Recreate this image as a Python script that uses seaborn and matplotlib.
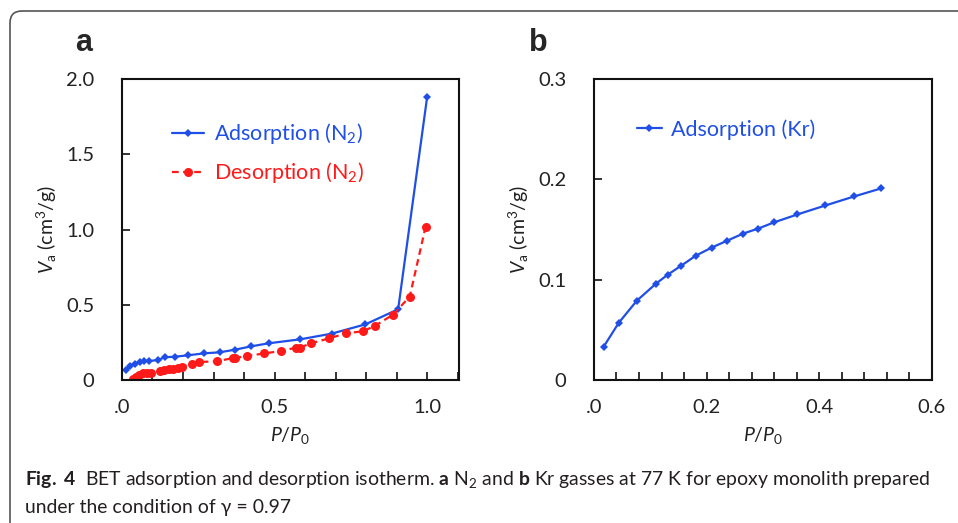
import matplotlib
matplotlib.use("Agg")
import matplotlib.pyplot as plt
from matplotlib.patches import FancyBboxPatch
from matplotlib.ticker import MultipleLocator, FixedLocator, FixedFormatter
from matplotlib.transforms import IdentityTransform
import seaborn as sns
import pandas as pd

# ---- data ----
ads_n2_p = [0.013, 0.026, 0.043, 0.059, 0.073, 0.090, 0.117, 0.141, 0.174, 0.216,
            0.268, 0.320, 0.372, 0.424, 0.481, 0.583, 0.687, 0.798, 0.905, 1.0]
ads_n2_v = [0.066, 0.093, 0.106, 0.120, 0.128, 0.126, 0.133, 0.151, 0.155, 0.164,
            0.177, 0.184, 0.202, 0.224, 0.244, 0.270, 0.308, 0.370, 0.470, 1.88]

des_n2_p = [0.995, 0.943, 0.888, 0.830, 0.790, 0.734, 0.679, 0.620, 0.582, 0.570,
            0.522, 0.467, 0.409, 0.371, 0.363, 0.311, 0.254, 0.229, 0.196, 0.185,
            0.168, 0.155, 0.138, 0.125, 0.094, 0.081, 0.070, 0.057, 0.046, 0.035]
des_n2_v = [1.019, 0.554, 0.434, 0.361, 0.324, 0.310, 0.277, 0.244, 0.215, 0.215,
            0.193, 0.177, 0.159, 0.146, 0.146, 0.124, 0.120, 0.106, 0.089, 0.082,
            0.075, 0.071, 0.066, 0.062, 0.049, 0.049, 0.044, 0.031, 0.018, 0.005]

ads_kr_p = [0.017, 0.044, 0.076, 0.110, 0.131, 0.155, 0.181, 0.209, 0.237, 0.265,
            0.292, 0.319, 0.361, 0.411, 0.462, 0.510]
ads_kr_v = [0.033, 0.057, 0.079, 0.096, 0.105, 0.114, 0.124, 0.132, 0.139, 0.146,
            0.151, 0.157, 0.165, 0.174, 0.183, 0.191]

BLUE = "#1f4fe6"
RED = "#ff1a1a"

sns.set_style("ticks")
plt.rcParams["font.family"] = ["Lato", "DejaVu Sans"]
plt.rcParams["mathtext.fontset"] = "custom"
plt.rcParams["mathtext.rm"] = "Lato"
plt.rcParams["mathtext.it"] = "Lato:italic"
plt.rcParams["mathtext.bf"] = "Lato:bold"

fig = plt.figure(figsize=(9.58, 5.23), dpi=100)

# outer rounded frame of the figure panel
frame = FancyBboxPatch((10, -40), 1000, 523 - 11 + 40,
                       boxstyle="round,pad=0,rounding_size=12",
                       transform=IdentityTransform(), fill=False,
                       edgecolor="#555555", linewidth=1.2)
fig.patches.append(frame)

ax1 = fig.add_axes([0.1273, 0.2734, 0.352, 0.5755])
ax2 = fig.add_axes([0.620, 0.2734, 0.3528, 0.5755])

df_ads = pd.DataFrame({"P": ads_n2_p, "V": ads_n2_v})
df_des = pd.DataFrame({"P": des_n2_p, "V": des_n2_v})
df_kr = pd.DataFrame({"P": ads_kr_p, "V": ads_kr_v})

sns.lineplot(data=df_ads, x="P", y="V", ax=ax1, sort=False, color=BLUE,
             marker="D", markersize=3.8, markeredgewidth=0, linewidth=1.6,
             label=r"Adsorption (N$_2$)")
sns.lineplot(data=df_des, x="P", y="V", ax=ax1, sort=False, color=RED,
             marker="o", markersize=6.5, markeredgewidth=0, linewidth=1.6,
             linestyle=(0, (3, 2)), label=r"Desorption (N$_2$)")
sns.lineplot(data=df_kr, x="P", y="V", ax=ax2, sort=False, color=BLUE,
             marker="D", markersize=3.8, markeredgewidth=0, linewidth=1.6,
             label="Adsorption (Kr)")

for ax in (ax1, ax2):
    for s in ax.spines.values():
        s.set_linewidth(1.5)
        s.set_color("#111111")
    ax.tick_params(which="both", direction="in", length=6, width=1.2,
                   labelsize=14.5, color="#111111", labelcolor="#222222")
    ax.tick_params(axis="x", which="both", pad=14)
    ax.tick_params(axis="y", which="both", pad=20)
    ax.set_xlabel(r"$P/P_0$", fontsize=14, color="#222222", labelpad=6)
    ax.set_ylabel(r"$V_\mathrm{a}$ (cm$^3$/g)", fontsize=14, color="#222222",
                  labelpad=5)

ax1.set_xlim(0, 1.105)
ax1.set_ylim(0, 2.0)
ax1.xaxis.set_major_locator(FixedLocator([0, 0.5, 1.0]))
ax1.xaxis.set_major_formatter(FixedFormatter([".0", "0.5", "1.0"]))
ax1.xaxis.set_minor_locator(MultipleLocator(0.1))
ax1.yaxis.set_major_locator(FixedLocator([0, 0.5, 1.0, 1.5, 2.0]))
ax1.yaxis.set_major_formatter(FixedFormatter(["0", "0.5", "1.0", "1.5", "2.0"]))

ax2.set_xlim(0, 0.6)
ax2.set_ylim(0, 0.3)
ax2.xaxis.set_major_locator(FixedLocator([0, 0.2, 0.4, 0.6]))
ax2.xaxis.set_major_formatter(FixedFormatter([".0", "0.2", "0.4", "0.6"]))
ax2.xaxis.set_minor_locator(MultipleLocator(0.04))
ax2.yaxis.set_major_locator(FixedLocator([0, 0.1, 0.2, 0.3]))
ax2.yaxis.set_major_formatter(FixedFormatter(["0", "0.1", "0.2", "0.3"]))

leg1 = ax1.legend(loc="upper left", bbox_to_anchor=(0.148, 0.86), frameon=False,
                  fontsize=15.5, handlelength=1.5, handletextpad=0.45,
                  labelspacing=0.65, borderaxespad=0, borderpad=0)
for t, c in zip(leg1.get_texts(), [BLUE, RED]):
    t.set_color(c)
leg2 = ax2.legend(loc="upper left", bbox_to_anchor=(0.127, 0.867), frameon=False,
                  fontsize=15.5, handlelength=1.15, handletextpad=0.45,
                  borderaxespad=0, borderpad=0)
leg2.get_texts()[0].set_color(BLUE)

fig.text(84 / 958, 1 - 43 / 523, "a", fontsize=22, fontweight="bold",
         family="Liberation Sans", ha="center", va="center")
fig.text(538 / 958, 1 - 43 / 523, "b", fontsize=22, fontweight="bold",
         family="Liberation Sans", ha="center", va="center")

cap_kw = dict(fontsize=13, color="#231f20", ha="left", va="baseline")
cap1 = fig.text(25 / 958, 1 - 485 / 523,
                r"$\mathbf{Fig.\ 4}$  BET adsorption and desorption isotherm. "
                r"$\mathbf{a}$ N$_2$ and $\mathbf{b}$ Kr gasses at 77 K for epoxy "
                r"monolith prepared", **cap_kw)
cap2 = fig.text(25 / 958, 1 - 513 / 523,
                "under the condition of \u03b3 = 0.97", **cap_kw)

# shrink the caption so the first line spans the same width as the original
fig.canvas.draw()
w = cap1.get_window_extent().width
size = 13 * 902 / w
cap1.set_fontsize(size)
cap2.set_fontsize(size)

fig.savefig("out.png", dpi=100)
